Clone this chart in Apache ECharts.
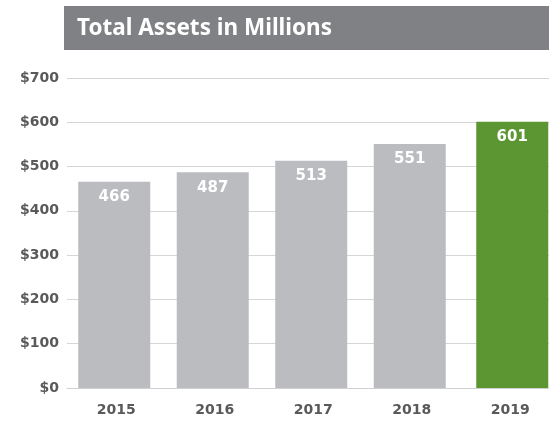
<!DOCTYPE html>
<html><head><meta charset="utf-8">
<script src="https://cdn.jsdelivr.net/npm/echarts@6/dist/echarts.min.js"></script>
<style>html,body{margin:0;padding:0;background:#fff;overflow:hidden}#c{width:560px;height:421px}</style>
</head><body><div id="c"></div>
<script>
const categories = ['2015','2016','2017','2018','2019'];
const values = [466, 487, 513, 551, 601];
const yTicks = [0,100,200,300,400,500,600,700];
const highlightIndex = 4;

const labelStyle = {show:true, position:'insideTop', distance:8, color:'#fff', fontWeight:'bold', fontSize:15, fontFamily:'DejaVu Sans'};
const chart = echarts.init(document.getElementById('c'), null, {renderer:'canvas'});
chart.setOption({
  animation:false,
  graphic:[
    {type:'rect', shape:{x:64,y:6,width:496,height:44}, style:{fill:'#808184'}},
    {type:'text', left:77, top:17, style:{text:'Total Assets in Millions', fill:'#fff', font:'bold 22.5px "Noto Sans"'}}
  ],
  grid:{left:67, top:78, width:492.5, height:310, containLabel:false},
  xAxis:{type:'category', data:categories,
    axisLine:{lineStyle:{color:'#d0d0d0'}}, axisTick:{show:false},
    axisLabel:{color:'#595959', fontWeight:'bold', fontSize:14, fontFamily:'DejaVu Sans', margin:15}},
  yAxis:{type:'value', min:0, max:700, interval:100,
    axisLine:{show:false}, axisTick:{show:false},
    splitLine:{lineStyle:{color:'#d6d6d6'}},
    axisLabel:{color:'#595959', fontWeight:'bold', fontSize:14, fontFamily:'DejaVu Sans', margin:8,
      formatter:v=>'$'+v}},
  series:[
    {type:'bar', barWidth:72, barGap:'-94.44%',
      data: values.map((v,i)=> i===highlightIndex ? '-' : v),
      itemStyle:{color:'#BBBCC0'}, label:labelStyle},
    {type:'bar', barWidth:72,
      data: values.map((v,i)=> i===highlightIndex ? v : '-'),
      itemStyle:{color:'#5B9632'}, label:labelStyle}
  ]
});
</script></body></html>
